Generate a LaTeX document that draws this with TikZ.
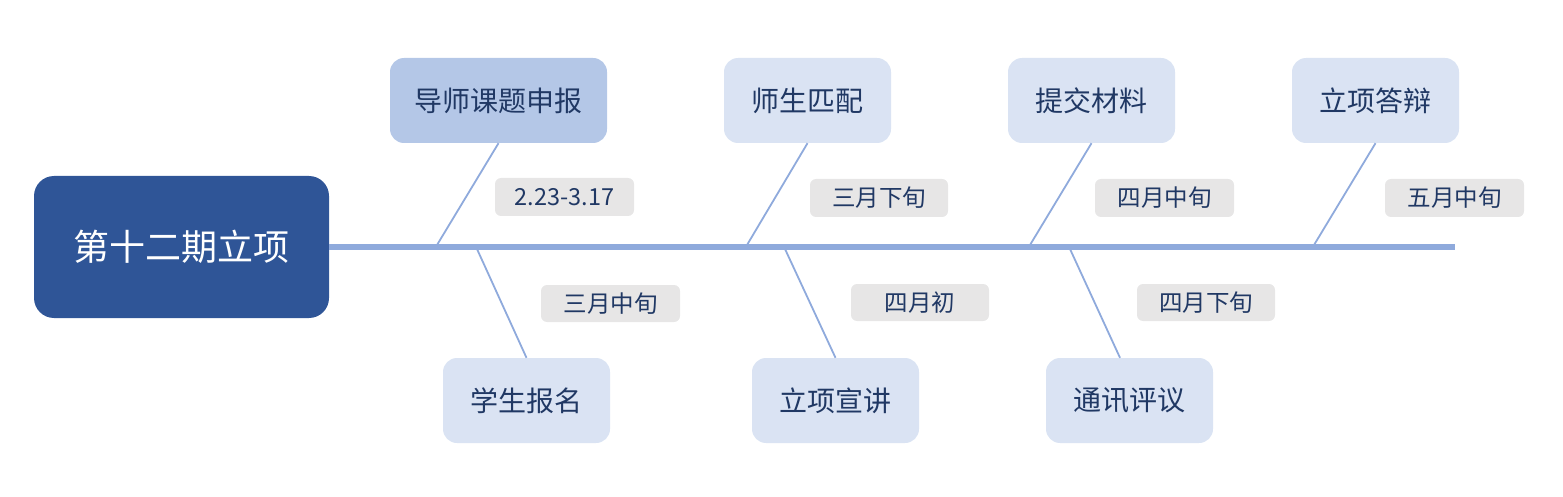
\documentclass[tikz,border=0pt]{standalone}
\usepackage{fontspec}
\setmainfont{Noto Sans CJK SC}
\definecolor{mainblue}{HTML}{2F5597}
\definecolor{lightblue}{HTML}{DAE3F3}
\definecolor{midblue}{HTML}{B4C7E7}
\definecolor{txtblue}{HTML}{203864}
\definecolor{lgray}{HTML}{E7E6E6}
\definecolor{linec}{HTML}{8FAADC}
\begin{document}
\begin{tikzpicture}[x=1pt,y=-1pt,
  mainbox/.style={fill=mainblue,rounded corners=20pt,text=white,font=\fontsize{36}{40}\selectfont,inner sep=0pt},
  stagebox/.style={fill=lightblue,rounded corners=14pt,text=txtblue,font=\fontsize{28}{32}\selectfont,inner sep=0pt},
  datebox/.style={fill=lgray,rounded corners=6pt,text=txtblue,font=\fontsize{23.5}{26}\selectfont,inner sep=0pt},
  bone/.style={draw=linec,line width=1.8pt},
  spine/.style={draw=linec,line width=6pt}]
\useasboundingbox (0,0) rectangle (1563,497);
% main node
\node[mainbox,minimum width=295pt,minimum height=142pt] (main) at (181.5,247) {第十二期立项};
% top stage boxes
\node[stagebox,fill=midblue,minimum width=217pt,minimum height=85pt] (t1) at (498.5,100.5) {导师课题申报};
\node[stagebox,minimum width=167pt,minimum height=85pt] (t2) at (807.5,100.5) {师生匹配};
\node[stagebox,minimum width=167pt,minimum height=85pt] (t3) at (1091.5,100.5) {提交材料};
\node[stagebox,minimum width=167pt,minimum height=85pt] (t4) at (1375.5,100.5) {立项答辩};
% bottom stage boxes
\node[stagebox,minimum width=167pt,minimum height=85pt] (b1) at (526.5,400.5) {学生报名};
\node[stagebox,minimum width=167pt,minimum height=85pt] (b2) at (835.5,400.5) {立项宣讲};
\node[stagebox,minimum width=167pt,minimum height=85pt] (b3) at (1129.5,400.5) {通讯评议};
% date labels
\node[datebox,minimum width=139pt,minimum height=38pt] (d1) at (564.5,197) {2.23-3.17};
\node[datebox,minimum width=138pt,minimum height=38pt] (d2) at (879,198) {三月下旬};
\node[datebox,minimum width=139pt,minimum height=38pt] (d3) at (1164.5,198) {四月中旬};
\node[datebox,minimum width=139pt,minimum height=38pt] (d4) at (1454.5,198) {五月中旬};
\node[datebox,minimum width=139pt,minimum height=37pt] (d5) at (610.5,303.5) {三月中旬};
\node[datebox,minimum width=138pt,minimum height=37pt] (d6) at (920,302.5) {四月初};
\node[datebox,minimum width=138pt,minimum height=37pt] (d7) at (1206,302.5) {四月下旬};
% spine
\coordinate (tail) at (1455,247);
\draw[spine] (main.east) -- (tail);
% spine joints
\coordinate (s1) at (437,245);
\coordinate (s2) at (747,245);
\coordinate (s3) at (1030,245);
\coordinate (s4) at (1314,245);
\coordinate (u1) at (477,249);
\coordinate (u2) at (785,249);
\coordinate (u3) at (1070,249);
% bones
\draw[bone] (t1.south) -- (s1);
\draw[bone] (t2.south) -- (s2);
\draw[bone] (t3.south) -- (s3);
\draw[bone] (t4.south) -- (s4);
\draw[bone] (u1) -- (b1.north);
\draw[bone] (u2) -- (b2.north);
\draw[bone] (u3) -- ([xshift=-9.5pt]b3.north);
\end{tikzpicture}
\end{document}
